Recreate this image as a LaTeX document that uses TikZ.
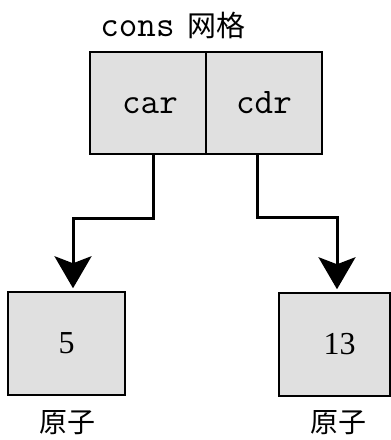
\documentclass[tikz,border=0pt]{standalone}
\usepackage{fontspec}
\setmainfont{Liberation Serif}
\newfontfamily\cjk{Noto Sans CJK SC}
\usetikzlibrary{arrows.meta}
\definecolor{boxgray}{RGB}{224,224,224}
\tikzset{
  cell/.style={draw=black, fill=boxgray, line width=1.5pt, minimum width=116pt, minimum height=102pt, inner sep=0pt, text height=20pt, text depth=0pt, font=\ttfamily\fontsize{36}{36}\selectfont},
  atombox/.style={draw=black, fill=boxgray, line width=1.5pt, minimum height=103pt, inner sep=0pt, font=\fontsize{32}{32}\selectfont},
  cjklabel/.style={inner sep=0pt, font=\cjk\fontsize{28}{28}\selectfont},
  conn/.style={line width=3pt, -{Stealth[length=32pt, width=37pt, inset=7pt]}, shorten >=3pt}
}
\begin{document}
\begin{tikzpicture}[x=1pt, y=-1pt]
\useasboundingbox (0,0) rectangle (391,440);
\node[inner sep=0pt, anchor=center] (title) at (173,25) {\ttfamily\fontsize{36}{36}\selectfont cons\hspace{13pt}{\cjk\fontsize{29}{29}\selectfont 网格}};
\node[cell] (car) at (148,103) {\hspace{4pt}car};
\node[cell] (cdr) at (264,103) {cdr};
\node[atombox, minimum width=117pt] (five) at (66.5,343.5) {5};
\node[atombox, minimum width=111pt] (thirteen) at (334.5,344.5) {\hspace{10pt}13};
\node[cjklabel] (lab1) at (67,423) {原子};
\node[cjklabel] (lab2) at (338,423) {原子};
\draw[conn] ([xshift=5pt]car.south) -- ++(0,64) -| ([xshift=6.5pt]five.north);
\draw[conn] ([xshift=-7pt]cdr.south) -- ++(0,63) -| ([xshift=2.5pt]thirteen.north);
\end{tikzpicture}
\end{document}
